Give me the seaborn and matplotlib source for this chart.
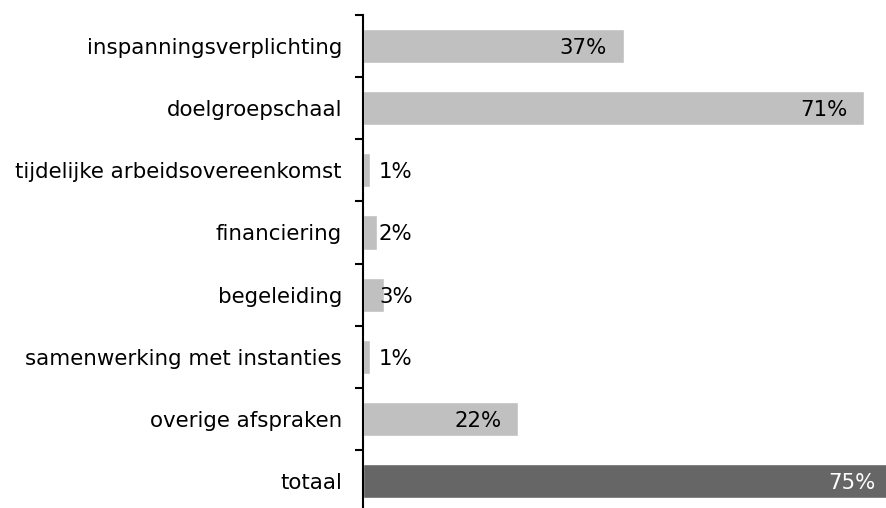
import numpy as np
import pandas as pd
import matplotlib
matplotlib.use('Agg')
import matplotlib.pyplot as plt
import seaborn as sns

# Donnees
categories = ['inspanningsverplichting', 'doelgroepschaal',
              'tijdelijke arbeidsovereenkomst', 'financiering', 'begeleiding',
              'samenwerking met instanties', 'overige afspraken', 'totaal']
values = [37, 71, 1, 2, 3, 1, 22, 75]
bar_colors = ['#C0C0C0'] * 7 + ['#666666']
label_colors = ['black'] * 7 + ['white']

df = pd.DataFrame({'categorie': categories, 'waarde': values})

sns.set_style('white')
plt.rcParams['font.family'] = ['DejaVu Sans']

fig = plt.figure(figsize=(8.86, 5.08), dpi=100)
ax = fig.add_axes([0.4094, -0.0079, 0.5906, 0.9783])

sns.barplot(data=df, x='waarde', y='categorie', hue='categorie',
            palette=bar_colors, orient='h', width=0.55, legend=False,
            saturation=1, ax=ax)

ax.set_xlim(0, 74.1)
ax.set_ylim(len(categories) - 0.5, -0.5)
ax.set_xlabel('')
ax.set_ylabel('')
ax.set_xticks([])

for side in ['top', 'right', 'bottom']:
    ax.spines[side].set_visible(False)
ax.spines['left'].set_color('black')
ax.spines['left'].set_linewidth(1.5)

# tick marks between categories, labels without tick
ax.set_yticks(np.arange(len(categories)))
ax.set_yticklabels(categories, fontsize=15.4, color='black')
ax.tick_params(axis='y', which='major', length=0, pad=15)
ax.set_yticks(np.arange(len(categories) + 1) - 0.5, minor=True)
ax.tick_params(axis='y', which='minor', length=6, width=1.5, color='black',
               direction='out', left=True)

for i, (v, c) in enumerate(zip(values, label_colors)):
    if v >= 10:
        ax.text(v - 2.4, i, f'{v}%', ha='right', va='center_baseline',
                fontsize=15.3, color=c)
    else:
        ax.text(2.3, i, f'{v}%', ha='left', va='center_baseline',
                fontsize=15.3, color=c)

fig.savefig('out.png', dpi=100)
